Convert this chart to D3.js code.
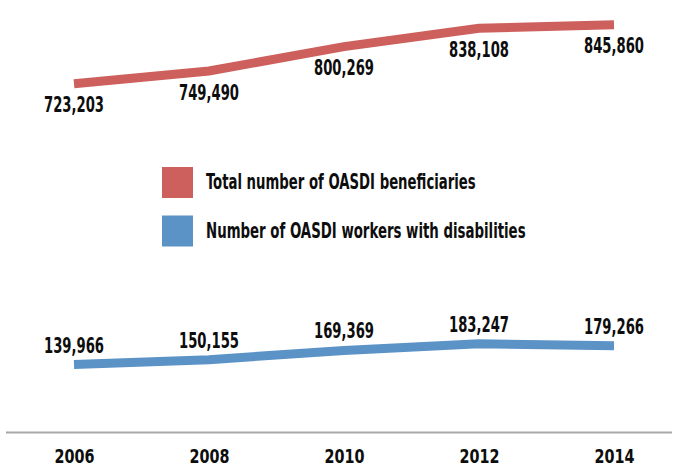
<!DOCTYPE html>
<html>
<head>
<meta charset="utf-8">
<script src="https://cdn.jsdelivr.net/npm/d3@7"></script>
<style>
  html, body { margin: 0; padding: 0; background: #fff; }
  svg { display: block; }
  text { font-family: "DejaVu Sans", sans-serif; font-stretch: condensed; font-weight: bold; fill: #0d0d0d; }
</style>
</head>
<body>
<svg id="chart" width="678" height="469"></svg>
<script>
const years = ["2006", "2008", "2010", "2012", "2014"];
const totalBeneficiaries = [723203, 749490, 800269, 838108, 845860];
const workersWithDisabilities = [139966, 150155, 169369, 183247, 179266];
const seriesNames = ["Total number of OASDI beneficiaries", "Number of OASDI workers with disabilities"];
const seriesColors = ["#cd605c", "#5b93c7"];

const svg = d3.select("#chart");

const x = d3.scalePoint().domain(years).range([74, 614]);
const y = d3.scaleLinear().domain([0, 897000]).range([432, 0]);

// horizontal squeeze to mimic a bold condensed face
function squeeze(sel) {
  sel.each(function () {
    const t = d3.select(this);
    const len = this.getComputedTextLength();
    const target = +t.attr("data-w");
    if (len > 0 && target > 0) {
      const k = target / len;
      const ax = +t.attr("x") || 0;
      t.attr("transform", `translate(${ax},0) scale(${k},1) translate(${-ax},0)`);
    }
  });
}

// baseline axis
const xAxis = d3.axisBottom(x).tickSize(0).tickPadding(20);
const gx = svg.append("g").attr("transform", `translate(0,${y(0)})`).call(xAxis);
gx.select(".domain").remove();
gx.append("line").attr("x1", 6).attr("x2", 672).attr("y1", 0.5).attr("y2", 0.5)
  .attr("stroke", "#a8a8a8").attr("stroke-width", 2);
gx.selectAll(".tick text")
  .attr("font-size", 20)
  .attr("fill", "#0d0d0d")
  .attr("font-family", null)
  .attr("font-weight", "bold")
  .attr("dy", null)
  .attr("y", 31.5)
  .attr("x", 0)
  .attr("data-w", 40)
  .call(squeeze);

const fmt = d3.format(",");
const line = d3.line().x((d, i) => x(years[i])).y(d => y(d));

const series = [
  { name: seriesNames[0], values: totalBeneficiaries, color: seriesColors[0], labelDy: 28.5, legW: 270 },
  { name: seriesNames[1], values: workersWithDisabilities, color: seriesColors[1], labelDy: -12, legW: 320 }
];

series.forEach(s => {
  svg.append("path")
    .datum(s.values)
    .attr("d", line)
    .attr("fill", "none")
    .attr("stroke", s.color)
    .attr("stroke-width", 9)
    .attr("stroke-linejoin", "miter")
    .attr("stroke-linecap", "butt");

  svg.append("g").selectAll("text")
    .data(s.values)
    .join("text")
    .attr("x", (d, i) => x(years[i]))
    .attr("y", d => y(d) + s.labelDy)
    .attr("text-anchor", "middle")
    .attr("font-size", 20.5)
    .attr("data-w", 60)
    .text(d => fmt(d))
    .call(squeeze);
});

// legend
const legend = svg.append("g");
series.forEach((s, i) => {
  const ly = 167 + i * 48.5;
  legend.append("rect")
    .attr("x", 162).attr("y", ly)
    .attr("width", 31).attr("height", 31)
    .attr("fill", s.color);
  legend.append("text")
    .attr("x", 206).attr("y", ly + 22.5)
    .attr("font-size", 21)
    .attr("data-w", s.legW)
    .text(s.name)
    .call(squeeze);
});
</script>
</body>
</html>
